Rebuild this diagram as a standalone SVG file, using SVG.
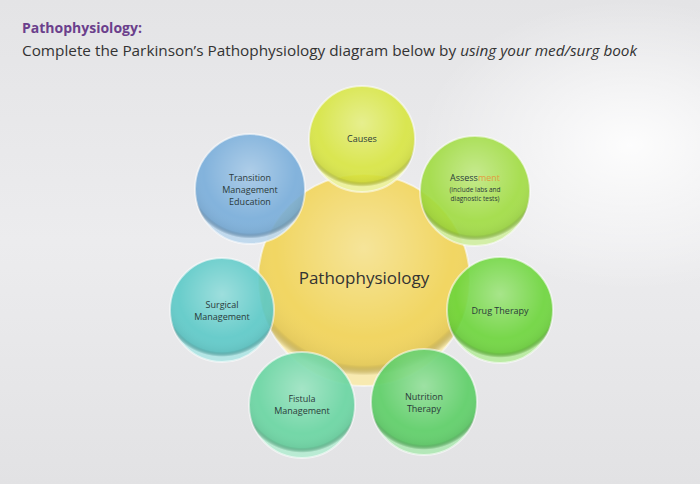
<svg xmlns="http://www.w3.org/2000/svg" width="700" height="484" viewBox="0 0 700 484">
<defs>
<linearGradient id="bg" x1="0" y1="0" x2="0" y2="1">
<stop offset="0" stop-color="#e4e4e6"/>
<stop offset="0.5" stop-color="#ececee"/>
<stop offset="1" stop-color="#e2e2e4"/>
</linearGradient>
<radialGradient id="glare" cx="0.9" cy="0.3" r="0.3">
<stop offset="0" stop-color="#ffffff" stop-opacity="0.9"/>
<stop offset="1" stop-color="#ffffff" stop-opacity="0"/>
</radialGradient>
<radialGradient id="gloss" cx="0.5" cy="0.35" r="0.6">
<stop offset="0" stop-color="#ffffff" stop-opacity="0.35"/>
<stop offset="0.7" stop-color="#ffffff" stop-opacity="0"/>
<stop offset="0.92" stop-color="#000000" stop-opacity="0.05"/>
<stop offset="1" stop-color="#ffffff" stop-opacity="0.5"/>
</radialGradient>
</defs>
<style>
.lbl{font-family:"Open Sans","Liberation Sans",sans-serif;font-size:9px;fill:#2a3a3a;text-anchor:middle}
.sm{font-size:6.5px}
.node{stroke:#ffffff;stroke-opacity:0.6;stroke-width:2}
</style>
<rect width="700" height="484" fill="url(#bg)"/>
<rect width="700" height="484" fill="url(#glare)"/>
<text x="22" y="33" font-family="Open Sans, Liberation Sans, sans-serif" font-size="14" font-weight="bold" fill="#6b3f8c">Pathophysiology:</text>
<text x="22" y="56" font-family="Open Sans, Liberation Sans, sans-serif" font-size="14" fill="#333333" textLength="615" lengthAdjust="spacingAndGlyphs">Complete the Parkinson’s Pathophysiology diagram below by <tspan font-style="italic">using your med/surg book</tspan></text>
<g id="connectors"/>
<g id="center">
<circle cx="364" cy="280" r="106" fill="#f2d455" opacity="0.9" class="node"/>
<circle cx="364" cy="280" r="106" fill="url(#gloss)"/>
<text x="364" y="284" font-family="Open Sans, Liberation Sans, sans-serif" font-size="17" fill="#333333" text-anchor="middle">Pathophysiology</text>
</g>
<g id="causes">
<circle cx="362" cy="139" r="53" fill="#d8e63c" opacity="0.88" class="node"/>
<circle cx="362" cy="139" r="53" fill="url(#gloss)"/>
<text x="362" y="142" class="lbl">Causes</text>
</g>
<g id="assessment">
<circle cx="475" cy="191" r="55" fill="#9edc3c" opacity="0.88" class="node"/>
<circle cx="475" cy="191" r="55" fill="url(#gloss)"/>
<text x="475" y="181" class="lbl">Assess<tspan fill="#e0a040">ment</tspan></text>
<text x="475" y="192" class="lbl sm">(include labs and</text>
<text x="475" y="201" class="lbl sm">diagnostic tests)</text>
</g>
<g id="drug">
<circle cx="500" cy="310" r="53" fill="#6cd63a" opacity="0.9" class="node"/>
<circle cx="500" cy="310" r="53" fill="url(#gloss)"/>
<text x="500" y="314" class="lbl">Drug Therapy</text>
</g>
<g id="nutrition">
<circle cx="424" cy="402" r="53" fill="#5ccf66" opacity="0.9" class="node"/>
<circle cx="424" cy="402" r="53" fill="url(#gloss)"/>
<text x="424" y="400" class="lbl">Nutrition</text>
<text x="424" y="412" class="lbl">Therapy</text>
</g>
<g id="fistula">
<circle cx="302" cy="405" r="53" fill="#68d6a2" opacity="0.9" class="node"/>
<circle cx="302" cy="405" r="53" fill="url(#gloss)"/>
<text x="302" y="402" class="lbl">Fistula</text>
<text x="302" y="414" class="lbl">Management</text>
</g>
<g id="surgical">
<circle cx="222" cy="310" r="52" fill="#5ccac8" opacity="0.9" class="node"/>
<circle cx="222" cy="310" r="52" fill="url(#gloss)"/>
<text x="222" y="308" class="lbl">Surgical</text>
<text x="222" y="320" class="lbl">Management</text>
</g>
<g id="transition">
<circle cx="250" cy="189" r="55" fill="#78aedb" opacity="0.9" class="node"/>
<circle cx="250" cy="189" r="55" fill="url(#gloss)"/>
<text x="250" y="181" class="lbl">Transition</text>
<text x="250" y="193" class="lbl">Management</text>
<text x="250" y="205" class="lbl">Education</text>
</g>
</svg>
